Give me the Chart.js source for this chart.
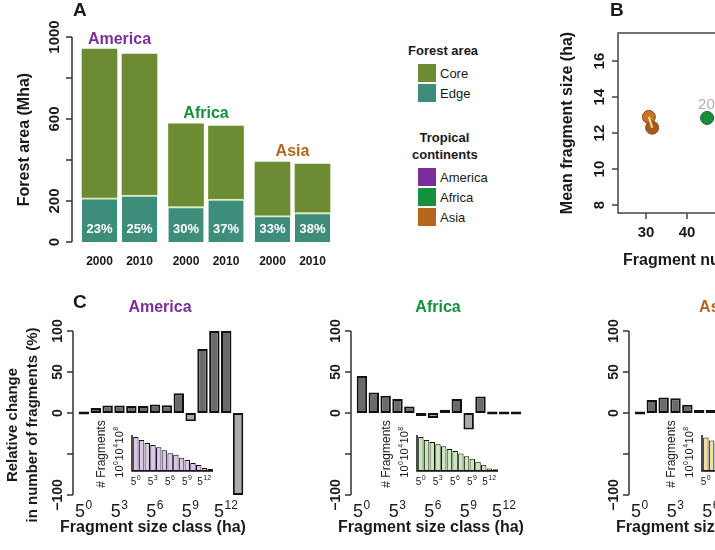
<!DOCTYPE html>
<html>
<head>
<meta charset="utf-8">
<script src="https://cdn.jsdelivr.net/npm/chart.js@4.4.1/dist/chart.umd.min.js"></script>
<style>
html, body { margin: 0; padding: 0; background: #fff; overflow: hidden; width: 715px; height: 550px; }
body { position: relative; font-family: "Liberation Sans", Arial, sans-serif; color: #1a1a1a; }
canvas { position: absolute; }
.t { position: absolute; white-space: nowrap; line-height: 1; }
.sq { position: absolute; width: 18px; height: 18px; }
</style>
</head>
<body>
<canvas id="cA" width="340" height="280" style="left:0;top:0"></canvas>
<canvas id="cB" width="420" height="280" style="left:490px;top:0"></canvas>
<canvas id="cC0" width="278" height="270" style="left:0;top:280px"></canvas>
<canvas id="cC1" width="278" height="270" style="left:278px;top:280px"></canvas>
<canvas id="cC2" width="278" height="270" style="left:556px;top:280px"></canvas>
<canvas id="cI0" width="160" height="95" style="left:60px;top:400px"></canvas>
<canvas id="cI1" width="160" height="95" style="left:345px;top:400px"></canvas>
<canvas id="cI2" width="160" height="95" style="left:630px;top:400px"></canvas>

<div class="t" style="left:73px;top:0px;font-weight:bold;font-size:19px">A</div>
<div class="t" style="left:610px;top:0px;font-weight:bold;font-size:19px">B</div>
<div class="t" style="left:73px;top:292px;font-weight:bold;font-size:19px">C</div>

<!-- legend of panel A -->
<div class="t" style="left:408px;top:44px;font-weight:bold;font-size:13px">Forest area</div>
<div class="sq" style="left:418px;top:64px;background:#6d8b32"></div>
<div class="t" style="left:440px;top:67px;font-size:13px">Core</div>
<div class="sq" style="left:418px;top:84px;background:#3e8d7a"></div>
<div class="t" style="left:440px;top:87px;font-size:13px">Edge</div>
<div class="t" style="left:412px;top:131px;font-weight:bold;font-size:13px;width:65px;text-align:center">Tropical</div>
<div class="t" style="left:412px;top:148px;font-weight:bold;font-size:13px">continents</div>
<div class="sq" style="left:418px;top:168px;background:#7b2d9c"></div>
<div class="t" style="left:440px;top:171px;font-size:13px">America</div>
<div class="sq" style="left:418px;top:188px;background:#15903d"></div>
<div class="t" style="left:440px;top:191px;font-size:13px">Africa</div>
<div class="sq" style="left:418px;top:208px;background:#b5651d"></div>
<div class="t" style="left:440px;top:211px;font-size:13px">Asia</div>

<script>
// ---- data ----
const years = ['2000', '2010'];
const continents = ['America', 'Africa', 'Asia'];
const contColors = ['#7b2d9c', '#15903d', '#b5651d'];

// panel A, bars in order America 2000, 2010, Africa 2000, 2010, Asia 2000, 2010 (Mha)
const coreArea = [725, 688, 403, 357, 261, 236];
const edgeArea = [216, 229, 173, 209, 129, 144];
const edgePct = ['23%', '25%', '30%', '37%', '33%', '38%'];

// panel B
const fragNumAsia = [30.7, 31.5];
const meanSizeAsia = [12.9, 12.3];
const fragNumAfrica = [44.9];
const meanSizeAfrica = [12.84];

// panel C: size classes 5^0 .. 5^13 ha
const sizeExp = [0, 1, 2, 3, 4, 5, 6, 7, 8, 9, 10, 11, 12, 13];
const changeAmerica = [0, 6, 9, 9, 8.5, 8.5, 10.5, 9.5, 24, -10, 78, 100, 100, -100];
const changeAfrica = [45, 25, 21, 17, 8, -1, -6, 4, 17, -20, 20, 0, 0, 0];
const changeAsia = [0, 16, 19, 18, 10, 3, 1, 2, -4, 6, 12, 5, 0, 0];
// insets: log10 of number of fragments per size class
const logFragAmerica = [8.0, 7.3, 6.6, 6.1, 5.6, 4.9, 4.2, 3.8, 3.1, 2.6, 1.9, 1.4, 0.7, 0.5];
const logFragAfrica = [8.0, 7.3, 6.8, 6.3, 5.8, 5.2, 4.7, 4.1, 3.5, 2.9, 2.2, 1.5, 0.6, 0.4];
const logFragAsia = [7.9, 7.2, 6.6, 6.0, 5.5, 4.9, 4.3, 3.7, 3.1, 2.5, 1.8, 1.2, 0.5, 0.3];
const insetColors = ['#d9c6ea', '#c9eab7', '#f3dea2'];

// ---- helpers ----
const fam = '"Liberation Sans", Arial, sans-serif';
const F = (w, s) => w + ' ' + s + 'px ' + fam;
const ink = '#1a1a1a';
Chart.defaults.font.family = fam;

function hText(ctx, s, x, y, font, color, align) {
  ctx.save();
  ctx.font = font; ctx.fillStyle = color;
  ctx.textAlign = align || 'center'; ctx.textBaseline = 'middle';
  ctx.fillText(s, x, y);
  ctx.restore();
}
function vText(ctx, s, x, y, font, color) {
  ctx.save();
  ctx.translate(x, y); ctx.rotate(-Math.PI / 2);
  ctx.font = font; ctx.fillStyle = color;
  ctx.textAlign = 'center'; ctx.textBaseline = 'middle';
  ctx.fillText(s, 0, 0);
  ctx.restore();
}
// powers like 5^3 or 10^4 10^8, centred on (x, y), optionally turned upwards
function powText(ctx, parts, x, y, size, rotated) {
  const bf = F('normal', size), ef = F('normal', Math.round(size * 0.68));
  let w = 0;
  const widths = parts.map(([b, e]) => {
    ctx.font = bf; const wb = ctx.measureText(b).width;
    ctx.font = ef; const we = ctx.measureText(String(e)).width;
    w += wb + we + 1;
    return [wb, we];
  });
  ctx.save();
  ctx.translate(x, y);
  if (rotated) ctx.rotate(-Math.PI / 2);
  ctx.fillStyle = ink; ctx.textAlign = 'left'; ctx.textBaseline = 'alphabetic';
  let cx = -w / 2;
  const base = size * 0.36;
  parts.forEach(([b, e], i) => {
    ctx.font = bf; ctx.fillText(b, cx, base);
    cx += widths[i][0] + 0.5;
    ctx.font = ef; ctx.fillText(String(e), cx, base - size * 0.45);
    cx += widths[i][1] + 0.5;
  });
  ctx.restore();
}
// R-style left axis: line across the tick range, ticks outward, rotated labels
function yAxisR(ctx, ys, xPos, ticks, labels, off, font, color) {
  ctx.save();
  ctx.strokeStyle = color || '#333'; ctx.lineWidth = 1.5;
  ctx.beginPath();
  ctx.moveTo(xPos, ys.getPixelForValue(ticks[0]));
  ctx.lineTo(xPos, ys.getPixelForValue(ticks[ticks.length - 1]));
  ticks.forEach(t => {
    const py = ys.getPixelForValue(t);
    ctx.moveTo(xPos, py); ctx.lineTo(xPos - 6, py);
  });
  ctx.stroke();
  ctx.restore();
  labels.forEach(t => {
    const s = t < 0 ? '\u2212' + Math.abs(t) : String(t);
    vText(ctx, s, xPos - off, ys.getPixelForValue(t), font, ink);
  });
}

const common = {
  responsive: false,
  animation: false,
  events: [],
};

// ---- panel A ----
const barX = i => i + 0.1625 * Math.floor(i / 2);
const decoA = {
  id: 'decoA',
  afterDraw(chart) {
    const { ctx, chartArea: ca } = chart;
    const x = chart.scales.x, y = chart.scales.y;
    yAxisR(ctx, y, ca.left, [0, 200, 400, 600, 800, 1000], [0, 200, 600, 1000], 17, F('bold', 15), '#333');
    vText(ctx, 'Forest area (Mha)', 25, (ca.top + ca.bottom) / 2, F('bold', 16), ink);
    const y0 = y.getPixelForValue(0);
    edgePct.forEach((p, i) => {
      const px = x.getPixelForValue(barX(i));
      hText(ctx, years[i % 2], px, y0 + 20, F('bold', 12), ink);
      hText(ctx, p, px, y0 - 13, F('bold', 13), '#fff');
    });
    continents.forEach((c, g) => {
      const a = 2 * g, b = 2 * g + 1;
      const cx = (x.getPixelForValue(barX(a)) + x.getPixelForValue(barX(b))) / 2;
      const top = Math.max(coreArea[a] + edgeArea[a], coreArea[b] + edgeArea[b]);
      hText(ctx, c, cx, y.getPixelForValue(top) - 10, F('bold', 16), contColors[g]);
    });
  }
};
new Chart(document.getElementById('cA'), {
  type: 'bar',
  data: {
    datasets: [
      {
        label: 'Edge',
        data: edgeArea.map((v, i) => ({ x: barX(i), y: v })),
        backgroundColor: '#3e8d7a',
        borderColor: '#d8efc6',
        borderWidth: { top: 2, left: 0, right: 0, bottom: 0 },
        borderSkipped: false,
        barThickness: 35
      },
      {
        label: 'Core',
        data: coreArea.map((v, i) => ({ x: barX(i), y: v })),
        backgroundColor: '#6d8b32',
        borderWidth: 0,
        barThickness: 35
      }
    ]
  },
  options: Object.assign({}, common, {
    layout: { padding: { left: 72, right: 5, top: 37, bottom: 38 } },
    plugins: { legend: { display: false }, tooltip: { enabled: false } },
    scales: {
      x: { type: 'linear', display: false, offset: false, stacked: true, min: -0.6875, max: 5.8875 },
      y: { display: false, stacked: true, min: 0, max: 1000 }
    }
  }),
  plugins: [decoA]
});

// ---- panel B ----
const decoB = {
  id: 'decoB',
  afterDraw(chart) {
    const { ctx, chartArea: ca } = chart;
    const x = chart.scales.x, y = chart.scales.y;
    ctx.save();
    ctx.strokeStyle = '#444'; ctx.lineWidth = 1.5;
    ctx.strokeRect(ca.left, ca.top, ca.right - ca.left, ca.bottom - ca.top);
    ctx.beginPath();
    [8, 10, 12, 14, 16].forEach(t => {
      const py = y.getPixelForValue(t);
      ctx.moveTo(ca.left, py); ctx.lineTo(ca.left - 6, py);
    });
    [30, 40, 50, 60, 70, 80].forEach(t => {
      const px = x.getPixelForValue(t);
      ctx.moveTo(px, ca.bottom); ctx.lineTo(px, ca.bottom + 6);
    });
    ctx.stroke();
    ctx.restore();
    [8, 10, 12, 14, 16].forEach(t => vText(ctx, String(t), ca.left - 18, y.getPixelForValue(t), F('bold', 15), ink));
    [30, 40, 50, 60, 70, 80].forEach(t => hText(ctx, String(t), x.getPixelForValue(t), ca.bottom + 20, F('bold', 15), ink));
    vText(ctx, 'Mean fragment size (ha)', 78, 123, F('bold', 16), ink);
    hText(ctx, 'Fragment number (millions)', 133, 261, F('bold', 16), ink, 'left');
    // year tag next to the Africa point
    const gx = x.getPixelForValue(fragNumAfrica[0]), gy = y.getPixelForValue(meanSizeAfrica[0]);
    hText(ctx, years[0], gx - 9, gy - 13, F('normal', 15), '#b0b0b0', 'left');
  }
};
new Chart(document.getElementById('cB'), {
  type: 'scatter',
  data: {
    datasets: [
      {
        type: 'line',
        data: fragNumAsia.map((v, i) => ({ x: v, y: meanSizeAsia[i] })),
        borderColor: '#f2e3a6',
        borderWidth: 2,
        pointRadius: 0,
        order: 0
      },
      {
        label: 'Asia',
        data: fragNumAsia.map((v, i) => ({ x: v, y: meanSizeAsia[i] })),
        backgroundColor: ['#c57424', '#a65a1c'],
        borderColor: '#8a4a12',
        borderWidth: 1,
        pointRadius: 6.5,
        order: 1
      },
      {
        label: 'Africa',
        data: fragNumAfrica.map((v, i) => ({ x: v, y: meanSizeAfrica[i] })),
        backgroundColor: '#1b8a3a',
        borderColor: '#0f6a2a',
        borderWidth: 1,
        pointRadius: 6.5,
        order: 1
      }
    ]
  },
  options: Object.assign({}, common, {
    layout: { padding: { left: 128, right: 20, top: 33, bottom: 67 } },
    plugins: { legend: { display: false }, tooltip: { enabled: false } },
    scales: {
      x: { type: 'linear', display: false, offset: false, min: 23.17, max: 89.5 },
      y: { display: false, min: 7.56, max: 17.56 }
    }
  }),
  plugins: [decoB]
});

// ---- panel C ----
const changes = [changeAmerica, changeAfrica, changeAsia];
const logFrags = [logFragAmerica, logFragAfrica, logFragAsia];
const sizeLabels = sizeExp.map(e => '5^' + e);
const labelled = [0, 3, 6, 9, 12];

changes.forEach((vals, ci) => {
  const deco = {
    id: 'decoC' + ci,
    afterDraw(chart) {
      const { ctx, chartArea: ca } = chart;
      const x = chart.scales.x, y = chart.scales.y;
      yAxisR(ctx, y, ca.left - 5, [-100, -50, 0, 50, 100], [-100, 0, 50, 100], 15, F('bold', 14), '#333');
      labelled.forEach(k => powText(ctx, [['5', sizeExp[k]]], x.getPixelForValue(k), ca.bottom + 16, 18, false));
      hText(ctx, continents[ci], (ca.left + ca.right) / 2 - 1, 28, F('bold', 16), contColors[ci]);
      hText(ctx, 'Fragment size class (ha)', ca.left + 75, 248, F('bold', 16), ink);
      if (ci === 0) {
        vText(ctx, 'Relative change', 13, 145, F('bold', 15), ink);
        vText(ctx, 'in number of fragments (%)', 33, 145, F('bold', 15), ink);
      }
    }
  };
  new Chart(document.getElementById('cC' + ci), {
    type: 'bar',
    data: {
      labels: sizeLabels,
      datasets: [{
        data: vals,
        backgroundColor: vals.map(v => v < 0 ? '#ababab' : '#6b6b6b'),
        borderColor: '#111',
        borderWidth: 2,
        borderSkipped: false,
        minBarLength: 3,
        categoryPercentage: 1,
        barPercentage: 0.88
      }]
    },
    options: Object.assign({}, common, {
      layout: { padding: { left: 78, right: 34, top: 51, bottom: 55 } },
      plugins: { legend: { display: false }, tooltip: { enabled: false } },
      scales: {
        x: { display: false },
        y: { display: false, min: -100, max: 100 }
      }
    }),
    plugins: [deco]
  });

  // inset histogram of fragment numbers
  const decoI = {
    id: 'decoI' + ci,
    afterDraw(chart) {
      const { ctx, chartArea: ca } = chart;
      const x = chart.scales.x;
      ctx.save();
      ctx.strokeStyle = '#111'; ctx.lineWidth = 1.5;
      ctx.beginPath();
      ctx.moveTo(ca.left - 1, ca.top - 2);
      ctx.lineTo(ca.left - 1, ca.bottom);
      ctx.lineTo(ca.right, ca.bottom);
      ctx.stroke();
      ctx.restore();
      vText(ctx, '# Fragments', 42, 54, F('normal', 12), ink);
      powText(ctx, [['10', 0], ['10', 4], ['10', 8]], 59, 52, 11, true);
      labelled.forEach(k => powText(ctx, [['5', sizeExp[k]]], x.getPixelForValue(k), ca.bottom + 10, 10, false));
    }
  };
  new Chart(document.getElementById('cI' + ci), {
    type: 'bar',
    data: {
      labels: sizeLabels,
      datasets: [{
        data: logFrags[ci],
        backgroundColor: insetColors[ci],
        borderColor: '#111',
        borderWidth: 1,
        borderSkipped: false,
        categoryPercentage: 1,
        barPercentage: 0.95
      }]
    },
    options: Object.assign({}, common, {
      layout: { padding: { left: 73, right: 7, top: 37, bottom: 24 } },
      plugins: { legend: { display: false }, tooltip: { enabled: false } },
      scales: {
        x: { display: false },
        y: { display: false, min: 0, max: 8 }
      }
    }),
    plugins: [decoI]
  });
});
</script>
</body>
</html>
